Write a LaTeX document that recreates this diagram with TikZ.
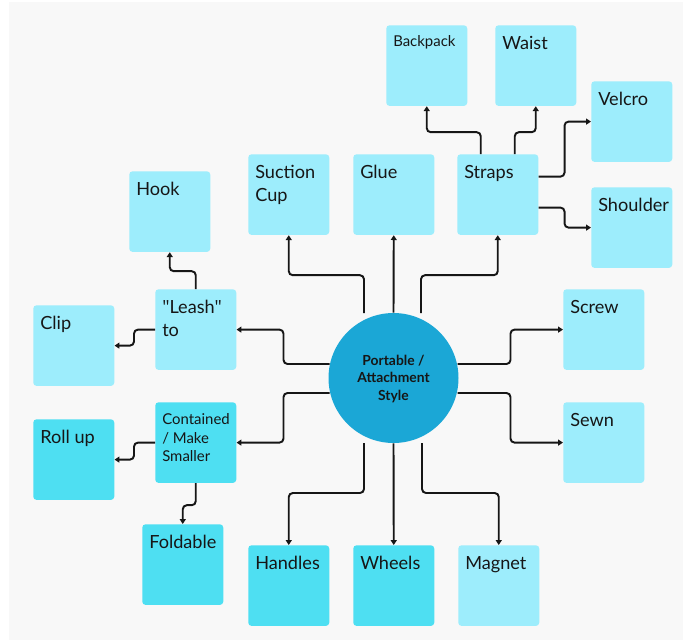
\documentclass[tikz,border=0pt]{standalone}
\usepackage{fontspec}
\setmainfont{Lato}
\newfontfamily\quotefont{Open Sans}
\newcommand{\sq}{{\quotefont\char34}}
\usetikzlibrary{arrows.meta,calc}
\definecolor{paper}{HTML}{F8F8F8}
\definecolor{cyanlight}{HTML}{9DEDFC}
\definecolor{cyandark}{HTML}{4EDFF2}
\definecolor{hub}{HTML}{1BA7D6}
\definecolor{ink}{HTML}{161616}
\begin{document}
\begin{tikzpicture}[x=0.75pt,y=-0.75pt,
  box/.style={fill=cyanlight, rounded corners=2.5pt, minimum width=60.75pt,
    minimum height=60.5pt, inner sep=0pt, anchor=north west},
  darkbox/.style={box, fill=cyandark},
  lbl/.style={anchor=north west, inner sep=0pt, align=left, text=ink,
    font=\fontsize{13.6}{17.25}\selectfont},
  smalllbl/.style={lbl, font=\fontsize{11.2}{13.7}\selectfont},
  conn/.style={draw=ink, line width=1.45pt, rounded corners=3pt,
    -{Triangle[length=3.6pt,width=4.4pt]}}]
% canvas
\useasboundingbox (0,0) rectangle (683,640);
\fill[white] (0,0) rectangle (683,640);
\fill[paper] (9,2) rectangle (683,640);

% central hub
\node[circle, fill=hub, minimum size=97.5pt, inner sep=0pt] (c) at (393.5,378) {};
\node[align=center, text=ink, inner sep=0pt,
  font=\bfseries\fontsize{10.4}{13.3}\selectfont]
  (c-t) at ($(c.center)+(0,1)$) {Portable /\\Attachment\\Style};

% boxes
\node[box] (bp) at (386,25) {};
\node[box] (wa) at (495,25) {};
\node[box] (ve) at (591,81) {};
\node[box] (sh) at (591,187) {};
\node[box] (st) at (457,154) {};
\node[box] (gl) at (353,154) {};
\node[box] (sc) at (248,154) {};
\node[box] (hk) at (129,171) {};
\node[box] (le) at (155,289) {};
\node[box] (cl) at (33,305) {};
\node[darkbox] (co) at (155,402) {};
\node[darkbox] (ru) at (33,419) {};
\node[darkbox] (fo) at (142,524) {};
\node[darkbox] (ha) at (248,545) {};
\node[darkbox] (wh) at (353,545) {};
\node[box] (ma) at (458,545) {};
\node[box] (sr) at (563,289) {};
\node[box] (se) at (563,402) {};

% box texts
\node[smalllbl] (bp-t) at ($(bp.north west)+(7,10.5)$) {Backpack};
\node[lbl] (wa-t) at ($(wa.north west)+(7,11)$) {Waist};
\node[lbl] (ve-t) at ($(ve.north west)+(7,11)$) {Velcro};
\node[lbl] (sh-t) at ($(sh.north west)+(7,11)$) {Shoulder};
\node[lbl] (st-t) at ($(st.north west)+(7,11)$) {Straps};
\node[lbl] (gl-t) at ($(gl.north west)+(7,11)$) {Glue};
\node[lbl] (sc-t) at ($(sc.north west)+(7,11)$) {Suction\\Cup};
\node[lbl] (hk-t) at ($(hk.north west)+(7,11)$) {Hook};
\node[lbl] (le-t) at ($(le.north west)+(7,11)$) {\sq Leash\sq\\to};
\node[lbl] (cl-t) at ($(cl.north west)+(7,11)$) {Clip};
\node[smalllbl] (co-t) at ($(co.north west)+(7,11.5)$) {Contained\\/ Make\\Smaller};
\node[lbl] (ru-t) at ($(ru.north west)+(7,11)$) {Roll up};
\node[lbl] (fo-t) at ($(fo.north west)+(7,11)$) {Foldable};
\node[lbl] (ha-t) at ($(ha.north west)+(7,11)$) {Handles};
\node[lbl] (wh-t) at ($(wh.north west)+(7,11)$) {Wheels};
\node[lbl] (ma-t) at ($(ma.north west)+(7,11)$) {Magnet};
\node[lbl] (sr-t) at ($(sr.north west)+(7,11)$) {Screw};
\node[lbl] (se-t) at ($(se.north west)+(7,11)$) {Sewn};

% hub connectors
\draw[conn] ($(c.center)+(-29.5,-65)$) |- ($(sc.south)+(0,40)$) -- (sc.south);
\draw[conn] (c.north) -- (gl.south);
\draw[conn] ($(c.center)+(27.5,-65)$) |- ($(st.south)+(0,40)$) -- (st.south);
\draw[conn] ($(c.center)+(-64,-14)$) -- ++(-46,0) |- (le.east);
\draw[conn] ($(c.center)+(-64,15)$) -- ++(-46,0) |- (co.east);
\draw[conn] ($(c.center)+(64,-14)$) -- ++(53,0) |- (sr.west);
\draw[conn] ($(c.center)+(64,15)$) -- ++(53,0) |- (se.west);
\draw[conn] ($(c.center)+(-29.5,65)$) |- ($(ha.north)+(0,-52)$) -- (ha.north);
\draw[conn] (c.south) -- (wh.north);
\draw[conn] ($(c.center)+(28.5,65)$) |- ($(ma.north)+(0,-52)$) -- (ma.north);

% straps branches
\draw[conn] ($(st.north)+(-17,0)$) |- ($(bp.south)+(0,26)$) -- (bp.south);
\draw[conn] ($(st.north)+(17,0)$) |- ($(wa.south)+(0,26)$) -- (wa.south);
\draw[conn] ($(st.east)+(0,-18)$) -- ++(26,0) |- (ve.west);
\draw[conn] ($(st.east)+(0,13)$) -- ++(26,0) |- (sh.west);

% leash branches
\draw[conn] (le.north) |- ($(hk.south)+(0,19)$) -- (hk.south);
\draw[conn] (le.west) -- ++(-21,0) |- (cl.east);

% contained branches
\draw[conn] (co.west) -- ++(-21,0) |- (ru.east);
\draw[conn] (co.south) -- ++(0,22) -| (fo.north);
\end{tikzpicture}
\end{document}
